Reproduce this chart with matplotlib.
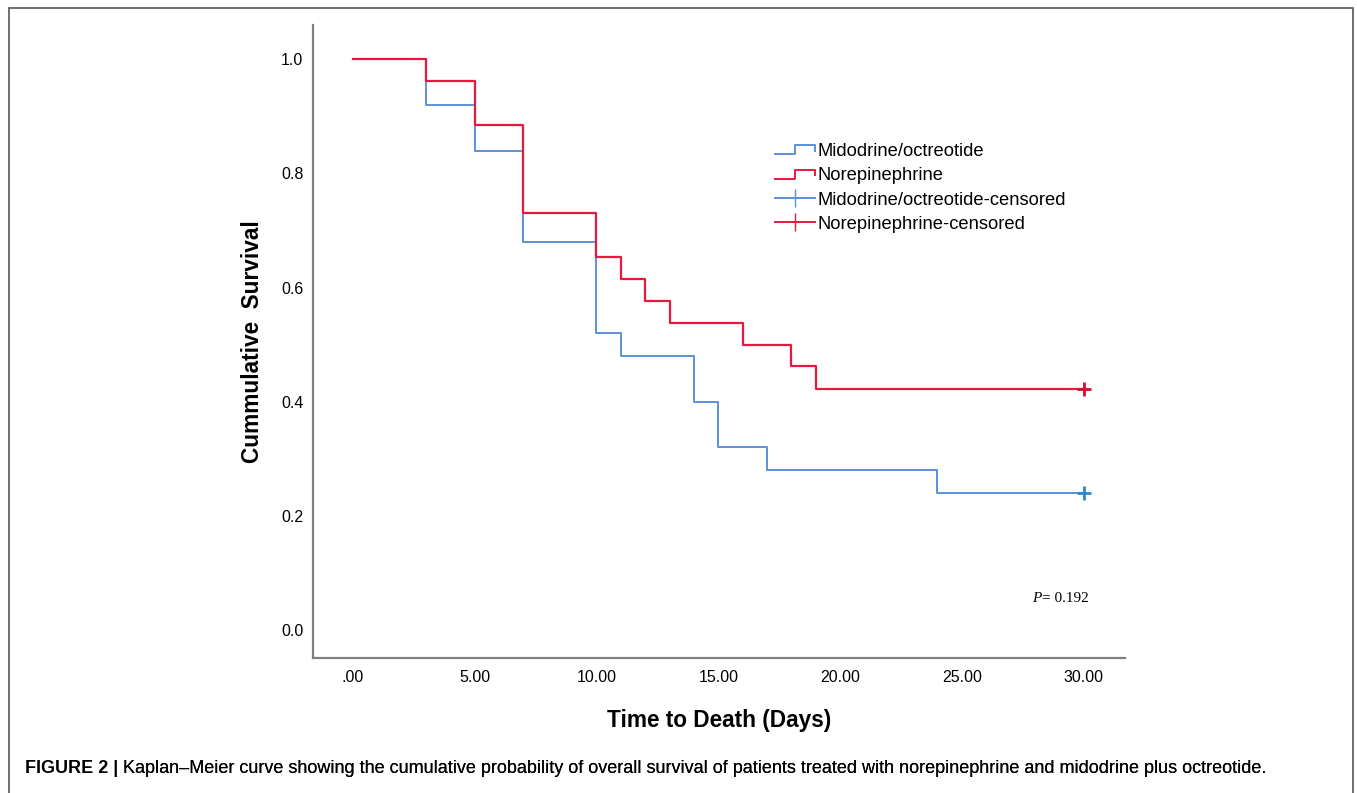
import matplotlib
matplotlib.use("Agg")
import matplotlib.pyplot as plt
from matplotlib.lines import Line2D
from matplotlib.legend_handler import HandlerBase
from matplotlib.patches import Rectangle

# ---- data ----
mido_times = [0, 3, 5, 7, 10, 11, 14, 15, 17, 24, 30]
mido_surv = [1.0, 0.92, 0.84, 0.68, 0.52, 0.48, 0.40, 0.32, 0.28, 0.24, 0.24]
nore_times = [0, 3, 5, 7, 10, 11, 12, 13, 16, 18, 19, 30]
nore_surv = [1.0, 0.962, 0.885, 0.731, 0.654, 0.615, 0.577, 0.538, 0.50, 0.462, 0.423, 0.423]
mido_censor_t = [30]
mido_censor_s = [0.24]
nore_censor_t = [30]
nore_censor_s = [0.423]
xticks = [0, 5, 10, 15, 20, 25, 30]
xticklabels = [".00", "5.00", "10.00", "15.00", "20.00", "25.00", "30.00"]
yticks = [0.0, 0.2, 0.4, 0.6, 0.8, 1.0]
yticklabels = ["0.0", "0.2", "0.4", "0.6", "0.8", "1.0"]
legend_labels = ["Midodrine/octreotide", "Norepinephrine",
                 "Midodrine/octreotide-censored", "Norepinephrine-censored"]

BLUE = "#5b92d8"
RED = "#e8193f"
BLUE_C = "#2f86cc"
RED_C = "#d01030"

plt.rcParams["font.family"] = ["Liberation Sans", "DejaVu Sans"]

fig = plt.figure(figsize=(13.57, 7.93), dpi=100)
ax = fig.add_axes([313/1357, 1-658/793, (1125-313)/1357, (658-25)/793])

ax.step(mido_times, mido_surv, where="post", color=BLUE, lw=1.4)
ax.step(nore_times, nore_surv, where="post", color=RED, lw=1.6)
ax.plot(mido_censor_t, mido_censor_s, ls="none", marker="+", ms=10, mew=2, color=BLUE_C)
ax.plot(nore_censor_t, nore_censor_s, ls="none", marker="+", ms=10, mew=2, color=RED_C)

ax.set_xlim(-1.64, 31.7)
ax.set_ylim(-0.049, 1.06)
ax.set_xticks(xticks)
ax.set_xticklabels(xticklabels, fontsize=11.5)
ax.set_yticks(yticks)
ax.set_yticklabels(yticklabels, fontsize=11.5)
ax.tick_params(axis="y", length=0, pad=7)
ax.tick_params(axis="x", length=0, pad=9)
for s in ["top", "right"]:
    ax.spines[s].set_visible(False)
for s in ["left", "bottom"]:
    ax.spines[s].set_color("#808080")
    ax.spines[s].set_linewidth(1.6)

ax.set_ylabel("Cummulative  Survival", fontsize=16.3, fontweight="bold", labelpad=12)
ax.set_xlabel("Time to Death (Days)", fontsize=16.3, fontweight="bold", labelpad=17)


class StepHandler(HandlerBase):
    def __init__(self, color):
        super().__init__()
        self.color = color

    def create_artists(self, legend, orig_handle, xdescent, ydescent, width, height, fontsize, trans):
        x0, x1 = -xdescent, -xdescent + width
        yl = -ydescent + height * 0.15
        yh = -ydescent + height * 0.85
        xs = [x0, x0 + width * 0.5, x0 + width * 0.5, x1, x1]
        ys = [yl, yl, yh, yh, yh - height * 0.45]
        ln = Line2D(xs, ys, color=self.color, lw=1.4, transform=trans)
        return [ln]


h1 = Line2D([], [], color=BLUE)
h2 = Line2D([], [], color=RED)
h3 = Line2D([], [], color=BLUE, marker="|", ms=13, lw=1.4)
h4 = Line2D([], [], color=RED, marker="|", ms=13, lw=1.4)
leg = ax.legend([h1, h2, h3, h4], legend_labels,
                handler_map={h1: StepHandler(BLUE), h2: StepHandler(RED)},
                loc="upper left", bbox_to_anchor=((768-313)/812, (658-136)/633),
                frameon=False, fontsize=13.2, handlelength=2.18, handletextpad=0.1,
                labelspacing=0.39, borderaxespad=0)

ax.text((1032-313)/812, (658-599)/633, "P", transform=ax.transAxes, fontsize=11,
        family="Liberation Serif", style="italic", va="center", ha="left")
ax.text((1042-313)/812, (658-599)/633, "= 0.192", transform=ax.transAxes, fontsize=11,
        family="Liberation Serif", va="center", ha="left")

# caption
t1 = fig.text(25/1357, 1-773/793, "FIGURE 2 |", fontsize=13, fontweight="bold",
              va="baseline", ha="left")
fig.add_artist(ax.annotate(" Kaplan\u2013Meier curve showing the cumulative probability of overall survival of "
                           "patients treated with norepinephrine and midodrine plus octreotide.",
                           xy=(1, 0), xycoords=t1, fontsize=13, va="bottom", ha="left",
                           annotation_clip=False))

# border
fig.add_artist(Rectangle((9/1357, -0.05), (1353-9)/1357, 1 - 8/793 + 0.05,
                         transform=fig.transFigure, fill=False, ec="#555555", lw=1.2))

fig.savefig("out.png", dpi=100)
